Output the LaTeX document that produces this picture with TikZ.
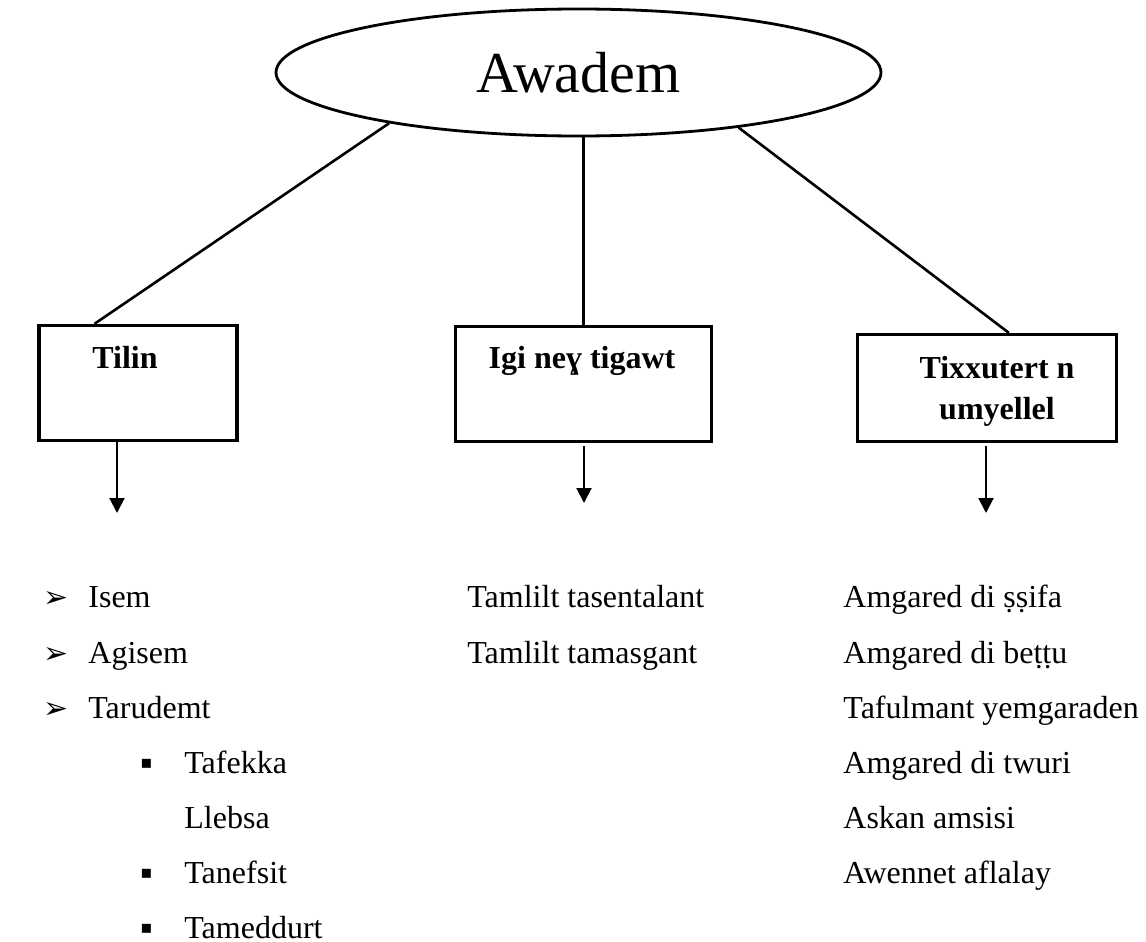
\documentclass[tikz,border=0pt]{standalone}
\usepackage{fontspec}
\setmainfont{Liberation Serif}
\newfontfamily\dingfont{DejaVu Sans}
\usetikzlibrary{shapes.geometric,arrows.meta}

\newcommand{\arrbul}{\makebox[22.5pt][l]{\dingfont\fontsize{15pt}{15pt}\selectfont ➢}}
\newcommand{\sqbul}{\makebox[22pt][l]{\raisebox{2.5pt}{\dingfont\fontsize{9pt}{9pt}\selectfont ▪}}}

\begin{document}
\begin{tikzpicture}[
    x=0.5pt, y=-0.5pt,
    topic/.style={draw, ellipse, line width=1.4pt, minimum width=302.5pt, minimum height=63.5pt, inner sep=0pt, font=\fontsize{29pt}{34pt}\selectfont},
    branch/.style={draw, rectangle, line width=1.6pt, inner sep=0pt},
    heading/.style={inner sep=0pt, align=center, font=\fontsize{16pt}{20.5pt}\selectfont\bfseries},
    entry/.style={anchor=base west, inner sep=0pt, font=\fontsize{16pt}{19pt}\selectfont},
    link/.style={line width=1.3pt},
    down/.style={line width=1pt, -{Triangle[width=7.5pt, length=7.5pt]}},
]
    \useasboundingbox (0,0) rectangle (1146,942);

    \node[topic] (awadem) at (578.5,72.5) {Awadem};

    \node[branch, minimum width=99pt, minimum height=57.5pt] (tilin) at (138,383) {};
    \node[branch, minimum width=128pt, minimum height=57.5pt] (igi) at (583.5,384) {};
    \node[branch, minimum width=129.5pt, minimum height=53.5pt] (tixx) at (987,388) {};

    \node[heading, anchor=base] (tilinlbl) at (125,368) {Tilin};
    \node[heading, anchor=base] (igilbl) at (582,368) {Igi neɣ tigawt};
    \node[heading] (tixxlbl) at (997,391) {Tixxutert n\\umyellel};

    \draw[link] (awadem.195) -- ([xshift=28.5pt]tilin.north west);
    \draw[link] (awadem.south -| igi.north) -- (igi.north);
    \draw[link] (awadem.341) -- ([xshift=76.5pt]tixx.north west);

    % arrows down to the lists
    \coordinate (tilinend) at (117,513);
    \coordinate (igiend) at (584,503);
    \coordinate (tixxend) at (986,513);
    \draw[down] (tilin.south -| tilinend) -- (tilinend);
    \draw[down] ([yshift=-1.5pt]igi.south -| igiend) -- (igiend);
    \draw[down] ([yshift=-1.5pt]tixx.south -| tixxend) -- (tixxend);

    % Tilin
    \node[entry] (isem) at (43,607) {\arrbul Isem};
    \node[entry] (agisem) at (43,663) {\arrbul Agisem};
    \node[entry] (tarudemt) at (43,718) {\arrbul Tarudemt};
    \node[entry] (tafekka) at (140,773) {\sqbul Tafekka};
    \node[entry] (llebsa) at (184,828) {Llebsa};
    \node[entry] (tanefsit) at (140,883) {\sqbul Tanefsit};
    \node[entry] (tameddurt) at (140,938) {\sqbul Tameddurt};

    % Igi neɣ tigawt
    \node[entry] (tasentalant) at (467,607) {Tamlilt tasentalant};
    \node[entry] (tamasgant) at (467,663) {Tamlilt tamasgant};

    % Tixxutert n umyellel
    \node[entry] (ssifa) at (843,607) {Amgared di ṣṣifa};
    \node[entry] (bettu) at (843,663) {Amgared di beṭṭu};
    \node[entry] (tafulmant) at (843,718) {Tafulmant yemgaraden};
    \node[entry] (twuri) at (843,773) {Amgared di twuri};
    \node[entry] (askan) at (843,828) {Askan amsisi};
    \node[entry] (awennet) at (843,883) {Awennet aflalay};
\end{tikzpicture}
\end{document}
